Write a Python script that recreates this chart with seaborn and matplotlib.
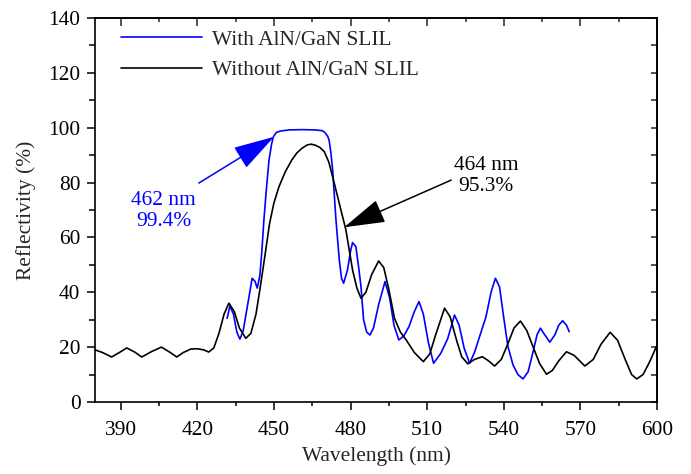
import matplotlib
matplotlib.use('Agg')
import matplotlib.pyplot as plt
import seaborn as sns
import pandas as pd

# reflectivity spectra
wl_without = [380, 383, 386.5, 389.5, 392.4, 395.5, 398.3, 402, 406, 409, 412, 414.5, 417.5, 420,
              422.5, 424.5, 426.5, 428.5, 430.5, 432.4, 434.5, 436.5, 439, 441, 443, 444.7, 446.6,
              448.3, 450, 452, 454.5, 457, 459, 461, 463, 464.5, 466, 468, 469.7, 471.5, 473, 475.6,
              478.2, 480.8, 482.5, 484.1, 486, 488.3, 491, 493, 495, 497.2, 499.5, 501.8, 505, 508.5,
              511, 513.5, 516.8, 519, 521.5, 523.5, 525.9, 528.5, 531.6, 534, 536.4, 539, 541.5, 544,
              546.5, 549, 551.4, 554, 556.7, 559, 561.5, 564.5, 567.5, 571.7, 575, 578, 581.6, 584.5,
              587.5, 590, 592, 594.5, 597, 600]
r_without = [19.0, 18.0, 16.4, 18.0, 19.7, 18.2, 16.4, 18.3, 20.0, 18.3, 16.4, 18.0, 19.3, 19.4,
             19.0, 18.2, 19.7, 25, 32, 36.0, 33, 27, 23.2, 25, 32, 42, 54,
             65, 72.5, 78.5, 84, 88.2, 90.8, 92.5, 93.7, 94.0, 93.7, 92.8, 91.3, 87.5, 82.1, 72.4,
             62.7, 48.1, 41.5, 37.8, 40, 46.5, 51.4, 49, 41, 30.5, 25.5, 22.6, 18, 14.7,
             17.5, 25, 34.2, 31, 22.5, 16.5, 13.9, 15.5, 16.5, 15, 13.1, 15.5, 21, 27,
             29.5, 26, 20.2, 14, 10.1, 11.5, 15, 18.3, 17, 13.1, 15.5, 21, 25.4, 22.5,
             15.5, 10, 8.4, 10, 14.5, 20.8]

wl_with = [431.7, 432.8, 434.2, 435.5, 436.7, 438, 439.6, 441.5, 442.6, 443.5, 444.5, 445.3, 446.1,
           447.1, 448.1, 449.1, 449.8, 451, 452.7, 456, 461, 466, 469, 469.9, 471, 471.6, 472.3,
           473, 474.3, 475.6, 476.5, 477.3, 478.8, 480, 480.8, 482.1, 483.2, 484.1, 485.1, 486.3,
           487.6, 489, 491, 493.5, 495.3, 497, 498.9, 500.8, 502.9, 505, 506.8, 508.5, 510.5,
           512.5, 515.3, 518, 520.7, 522.5, 524.5, 526.6, 528.5, 530.5, 533, 535, 536.7, 538.3,
           540, 541.6, 543.6, 545.5, 547.5, 549.5, 551.5, 553, 554.3, 556, 558, 560, 561.5, 563,
           564.5, 565.6]
r_with = [30.5, 35, 32, 25.5, 22.9, 26, 34.7, 45.1, 44, 41.5, 46, 55, 66.4,
          78, 88.2, 94, 96.7, 98.3, 98.8, 99.2, 99.3, 99.2, 98.9, 98.3, 97, 95.5, 91,
          84.6, 66.4, 51.8, 45, 43.3, 48.1, 55, 58.1, 56.6, 49, 42, 30, 25.5,
          24.4, 27, 35.5, 43.9, 38, 28, 22.6, 24, 27.5, 33, 36.6, 32, 21.5,
          14.1, 17.7, 23, 31.7, 28, 19.5, 14.1, 18, 23.8, 31, 40, 45.1, 42,
          30.5, 20.2, 13.5, 10, 8.4, 11, 18.5, 24.5, 26.9, 24.5, 21.8, 24.5, 28, 29.6,
          28, 25.6]

x_ticks = [390, 420, 450, 480, 510, 540, 570, 600]
x_minor = [405, 435, 465, 495, 525, 555, 585]
y_ticks = [0, 20, 40, 60, 80, 100, 120, 140]
y_minor = [10, 30, 50, 70, 90, 110, 130]

sns.set_theme(style='white')
plt.rcParams['font.family'] = ['Liberation Serif', 'DejaVu Serif']
fs = 15.4
blue = '#0000ff'

fig = plt.figure(figsize=(6.91, 4.74), dpi=100)
ax = fig.add_axes([0.1375, 0.152, 0.8135, 0.810])

df_with = pd.DataFrame({'wl': wl_with, 'R': r_with})
df_without = pd.DataFrame({'wl': wl_without, 'R': r_without})
sns.lineplot(data=df_with, x='wl', y='R', color=blue, linewidth=1.2, ax=ax,
             label='With AlN/GaN SLIL')
sns.lineplot(data=df_without, x='wl', y='R', color='black', linewidth=1.2, ax=ax,
             label='Without AlN/GaN SLIL')

ax.set_xlim(380, 600)
ax.set_ylim(0, 140)
ax.set_xticks(x_ticks)
ax.set_xticks(x_minor, minor=True)
ax.set_yticks(y_ticks)
ax.set_yticks(y_minor, minor=True)
ax.tick_params(which='both', direction='out', colors='black', labelsize=fs, width=1.1,
               bottom=True, left=True)
ax.tick_params(which='major', length=5.5)
ax.tick_params(axis='x', which='major', pad=8)
ax.tick_params(axis='y', which='major', pad=5)
ax.tick_params(axis='x', which='minor', length=3)
ax.tick_params(axis='y', which='minor', length=4)
for sp in ax.spines.values():
    sp.set_color('black')
    sp.set_linewidth(1.2)

# top and right axes carry inward ticks only
top = ax.secondary_xaxis('top')
top.set_xticks(x_ticks)
top.set_xticks(x_minor, minor=True)
top.tick_params(which='both', direction='in', labeltop=False, width=1.1)
top.tick_params(which='major', length=5.5)
top.tick_params(which='minor', length=3)
right = ax.secondary_yaxis('right')
right.set_yticks(y_ticks)
right.set_yticks(y_minor, minor=True)
right.tick_params(which='both', direction='in', labelright=False, width=1.1, length=4)
for a in (top, right):
    for sp in a.spines.values():
        sp.set_linewidth(1.2)
        sp.set_color('black')

ax.set_xlabel('Wavelength (nm)', fontsize=fs, labelpad=5)
ax.set_ylabel('Reflectivity (%)', fontsize=fs, labelpad=9)

ax.legend(loc='upper left', bbox_to_anchor=(0.012, 1.02), frameon=False, fontsize=fs,
          handlelength=3.8, handletextpad=0.45, labelspacing=0.5)

# peak annotations: arrow drawn tail -> tip, label placed on its own
arrow = '-|>,head_length=1.3,head_width=0.38'
ax.annotate('', xy=(450.1, 96.7), xytext=(420.6, 79.8),
            arrowprops=dict(arrowstyle=arrow, color=blue, lw=1.1, mutation_scale=20,
                            shrinkA=0, shrinkB=0))
ax.text(406.9, 69.6, '462 nm\n99.4%', color=blue, fontsize=fs, ha='center', va='center',
        linespacing=1.1)
ax.annotate('', xy=(477.5, 63.7), xytext=(519.4, 80.9),
            arrowprops=dict(arrowstyle=arrow, color='black', lw=1.1, mutation_scale=20,
                            shrinkA=0, shrinkB=0))
ax.text(533.1, 82.4, '464 nm\n95.3%', color='black', fontsize=fs, ha='center', va='center',
        linespacing=1.1)

fig.savefig('out.png', dpi=100)
